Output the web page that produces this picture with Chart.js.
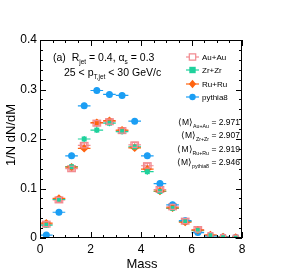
<!DOCTYPE html>
<html>
<head>
<meta charset="utf-8">
<script src="https://cdn.jsdelivr.net/npm/chart.js@4"></script>
<style>
  body { margin: 0; background: #fff; }
  #wrap { width: 284px; height: 279px; }
</style>
</head>
<body>
<div id="wrap"><canvas id="c" width="284" height="279"></canvas></div>
<script>
// bin centres (mass), bin half width 0.25
const massBins = [0.25, 0.75, 1.25, 1.75, 2.25, 2.75, 3.25, 3.75, 4.25, 4.75, 5.25, 5.75, 6.25, 6.75, 7.25, 7.75];
const auau    = [0.028, 0.077, 0.140, 0.187, 0.232, 0.235, 0.217, 0.188, 0.146, 0.098, 0.063, 0.034, 0.017, 0.006, 0.002, 0.001];
const zrzr    = [0.026, 0.078, 0.144, 0.200, 0.218, 0.232, 0.215, 0.184, 0.134, 0.094, 0.060, 0.033, 0.015, 0.005, 0.002, 0.001];
const ruru    = [0.030, 0.080, 0.143, 0.181, 0.233, 0.237, 0.218, 0.182, 0.139, 0.095, 0.061, 0.032, 0.016, 0.006, 0.002, 0.001];
const pythia8 = [0.006, 0.052, 0.166, 0.267, 0.298, 0.290, 0.288, 0.236, 0.166, 0.110, 0.067, 0.035, 0.011, 0.004, 0.002, 0.001];
const seriesNames = ["Au+Au", "Zr+Zr", "Ru+Ru", "pythia8"];
const meanMass = ["2.971", "2.907", "2.919", "2.946"];
const meanSubs = ["Au+Au", "Zr+Zr", "Ru+Ru", "pythia8"];
const xTicks = [0, 2, 4, 6, 8];
const yTicks = [0, 0.1, 0.2, 0.3, 0.4];

const colors = ["#f28a90", "#1fd19c", "#ff6410", "#1b9ef4"];
const styles = ["rect", "rect", "rectRot", "circle"];
const halfW = 0.25;
const FONT = "'Liberation Sans', Arial, sans-serif";

const makeSet = (vals, i) => ({
    label: seriesNames[i],
    data: massBins.map((m, k) => ({ x: m, y: vals[k] })),
    pointStyle: styles[i],
    pointRadius: i === 2 ? 4.2 : 3.5,
    borderWidth: i === 0 ? 1.2 : 0,
    borderColor: colors[i],
    backgroundColor: i === 0 ? "rgba(0,0,0,0)" : colors[i],
    showLine: false
});

const rootStyle = {
    id: "rootStyle",
    beforeDatasetsDraw(chart) {
        const { ctx, scales: { x, y } } = chart;
        ctx.save();
        chart.data.datasets.forEach((ds, i) => {
            ctx.strokeStyle = colors[i];
            ctx.lineWidth = 1.2;
            ds.data.forEach(p => {
                const px = x.getPixelForValue(p.x), py = y.getPixelForValue(p.y);
                ctx.beginPath();
                ctx.moveTo(x.getPixelForValue(p.x - halfW), py);
                ctx.lineTo(x.getPixelForValue(p.x + halfW), py);
                const e = p.y > 0.01 ? 0.006 : 0.002;
                ctx.moveTo(px, y.getPixelForValue(p.y - e));
                ctx.lineTo(px, y.getPixelForValue(p.y + e));
                ctx.stroke();
                if (i === 0 && p.y > 0.01) {
                    // open systematic box for Au+Au
                    const bx = x.getPixelForValue(p.x - 0.15), bw = x.getPixelForValue(p.x + 0.15) - bx;
                    const by = y.getPixelForValue(p.y + 0.006), bh = y.getPixelForValue(p.y - 0.006) - by;
                    ctx.strokeRect(bx, by, bw, bh);
                }
            });
        });
        ctx.restore();
    },
    afterDraw(chart) {
        const { ctx, chartArea: a, scales: { x, y } } = chart;
        ctx.save();
        // frame and inside ticks
        ctx.strokeStyle = "#000";
        ctx.lineWidth = 1;
        ctx.strokeRect(a.left + 0.5, a.top + 0.5, a.right - a.left - 1, a.bottom - a.top - 1);
        ctx.beginPath();
        for (let v = 0; v <= 8.001; v += 0.5) {
            const px = Math.round(x.getPixelForValue(v)) + 0.5;
            const len = Math.abs(v % 2) < 0.01 ? 6 : 3;
            ctx.moveTo(px, a.bottom); ctx.lineTo(px, a.bottom - len);
            ctx.moveTo(px, a.top); ctx.lineTo(px, a.top + len);
        }
        for (let k = 0; k <= 20; k++) {
            const py = Math.round(y.getPixelForValue(k * 0.02)) + 0.5;
            const len = k % 5 === 0 ? 6 : 3;
            ctx.moveTo(a.left, py); ctx.lineTo(a.left + len, py);
            ctx.moveTo(a.right, py); ctx.lineTo(a.right - len, py);
        }
        ctx.stroke();

        // axis titles
        ctx.fillStyle = "#000";
        ctx.font = "13px " + FONT;
        ctx.textAlign = "center";
        ctx.textBaseline = "alphabetic";
        ctx.fillText("Mass", 142, 268);
        ctx.save();
        ctx.translate(15, 135);
        ctx.rotate(-Math.PI / 2);
        ctx.fillText("1/N dN/dM", 0, 0);
        ctx.restore();

        // text with subscripts: parts = [text, isSub]
        const richWidth = (parts, size) => parts.reduce((w, [t, sub]) => {
            ctx.font = (sub ? size * 0.62 : size) + "px " + FONT;
            return w + ctx.measureText(t).width;
        }, 0);
        const rich = (parts, x0, yb, size) => {
            let cx = x0;
            ctx.textAlign = "left";
            parts.forEach(([t, sub]) => {
                const fs = sub ? size * 0.62 : size;
                ctx.font = fs + "px " + FONT;
                ctx.fillText(t, cx, sub ? yb + size * 0.3 : yb);
                cx += ctx.measureText(t).width;
            });
            return cx;
        };
        rich([["(a)  R", 0], ["jet", 1], [" = 0.4, \u03b1", 0], ["s", 1], [" = 0.3", 0]], 53, 61, 10.5);
        rich([["25 < p", 0], ["T,jet", 1], [" < 30 GeV/c", 0]], 64, 76, 10.5);

        // legend
        const legY = [57, 70, 84, 97];
        seriesNames.forEach((n, i) => {
            const mx = 192.5, my = legY[i];
            ctx.strokeStyle = colors[i];
            ctx.fillStyle = colors[i];
            ctx.lineWidth = 1.2;
            ctx.beginPath();
            ctx.moveTo(186, my); ctx.lineTo(199, my);
            ctx.stroke();
            ctx.beginPath();
            if (i === 3) ctx.arc(mx, my, 3.2, 0, Math.PI * 2);
            else if (i === 2) { ctx.moveTo(mx, my - 4.2); ctx.lineTo(mx + 3.6, my); ctx.lineTo(mx, my + 4.2); ctx.lineTo(mx - 3.6, my); ctx.closePath(); }
            else ctx.rect(mx - 3.2, my - 3.2, 6.4, 6.4);
            if (i === 0) { ctx.fillStyle = "#fff"; ctx.fill(); ctx.stroke(); }
            else ctx.fill();
            ctx.fillStyle = "#000";
            ctx.font = "8px " + FONT;
            ctx.textAlign = "left";
            ctx.textBaseline = "middle";
            ctx.fillText(n, 202, my + 0.5);
            ctx.textBaseline = "alphabetic";
        });

        // mean mass annotations, right edge near the frame
        const mY = [125, 138, 152, 165];
        ctx.fillStyle = "#000";
        meanSubs.forEach((s, i) => {
            const parts = [["\u27e8M\u27e9", 0], [s, 1], [" = " + meanMass[i], 0]];
            const w = richWidth(parts, 8.5);
            rich(parts, 240 - w, mY[i], 8.5);
        });
        ctx.restore();
    }
};

new Chart(document.getElementById("c"), {
    type: "scatter",
    data: { datasets: [auau, zrzr, ruru, pythia8].map(makeSet) },
    options: {
        responsive: false,
        animation: false,
        layout: { padding: { left: 0, top: 40, right: 42, bottom: 0 } },
        plugins: { legend: { display: false }, tooltip: { enabled: false } },
        scales: {
            x: {
                type: "linear", min: 0, max: 8,
                afterFit: s => { s.height = 41; },
                afterBuildTicks: s => { s.ticks = xTicks.map(v => ({ value: v })); },
                grid: { display: false, drawTicks: false },
                border: { display: false },
                ticks: { padding: 4, color: "#000", font: { family: FONT, size: 12 }, maxRotation: 0,
                         callback: v => String(v) }
            },
            y: {
                type: "linear", min: 0, max: 0.4,
                afterFit: s => { s.width = 40; },
                afterBuildTicks: s => { s.ticks = yTicks.map(v => ({ value: v })); },
                grid: { display: false, drawTicks: false },
                border: { display: false },
                ticks: { padding: 3, color: "#000", font: { family: FONT, size: 12 },
                         callback: v => v === 0 ? "0" : v.toFixed(1) }
            }
        }
    },
    plugins: [rootStyle]
});
</script>
</body>
</html>
